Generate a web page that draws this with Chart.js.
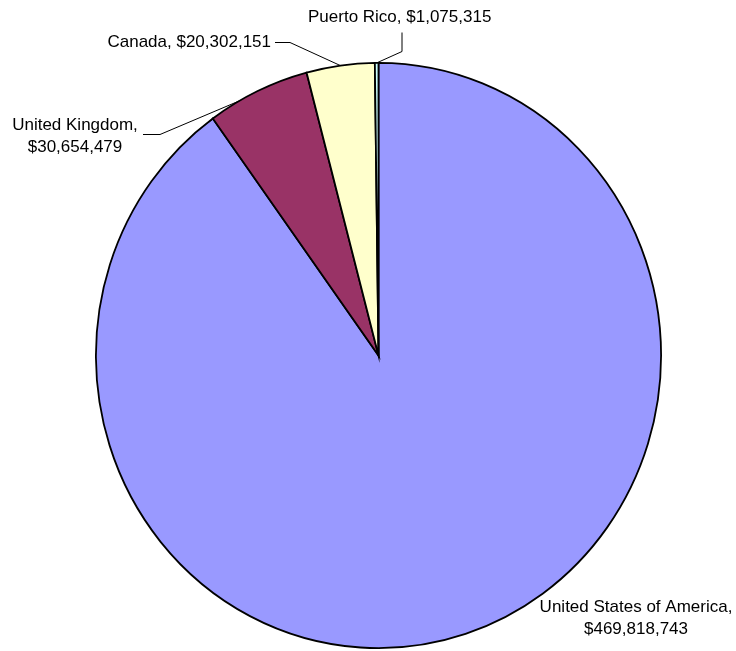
<!DOCTYPE html>
<html>
<head>
<meta charset="utf-8">
<script src="https://cdn.jsdelivr.net/npm/chart.js@4/dist/chart.umd.min.js"></script>
<style>
  html, body { margin: 0; padding: 0; background: #ffffff; }
  #wrap { position: relative; width: 736px; height: 651px; }
</style>
</head>
<body>
<div id="wrap"><canvas id="c" width="736" height="651"></canvas></div>
<script>
// ---- data ----
const countries = ["United States of America", "United Kingdom", "Canada", "Puerto Rico"];
const amounts = [469818743, 30654479, 20302151, 1075315];
const sliceColors = ["#9999FF", "#993366", "#FFFFCC", "#CCFFFF"];

// ---- label layout (style/position only) ----
const labelLayout = [
  { lines: 2, tx: 636, ty: 607, align: "center", leader: null },
  { lines: 2, tx: 75, ty: 125, align: "center", leader: { via: [[143, 134], [160, 134]], at: 0.3 } },
  { lines: 1, tx: 271, ty: 42, align: "right", leader: { via: [[275, 42], [290, 42]], at: 0.5 } },
  { lines: 1, tx: 308, ty: 17, align: "left", leader: { via: [[402, 32], [402, 51]], at: 0.5 } }
];
const ySquash = 293 / 283;

function fmtMoney(v) {
  return "$" + v.toLocaleString("en-US");
}

const ellipsePlugin = {
  id: "ellipse",
  beforeDatasetsDraw(chart) {
    const a = chart.getDatasetMeta(0).data[0];
    const ctx = chart.ctx;
    ctx.save();
    ctx.translate(a.x, a.y);
    ctx.scale(1, ySquash);
    ctx.translate(-a.x, -a.y);
  },
  afterDatasetsDraw(chart) {
    chart.ctx.restore();
  }
};

const labelPlugin = {
  id: "pieLabels",
  afterDraw(chart) {
    const ctx = chart.ctx;
    const meta = chart.getDatasetMeta(0);
    ctx.save();
    ctx.font = "17px 'Liberation Sans', Arial, sans-serif";
    ctx.fillStyle = "#000000";
    ctx.textBaseline = "middle";
    meta.data.forEach((arc, i) => {
      const L = labelLayout[i];
      const name = countries[i];
      const val = fmtMoney(chart.data.datasets[0].data[i]);
      ctx.textAlign = L.align;
      if (L.lines === 2) {
        ctx.fillText(name + ",", L.tx, L.ty);
        ctx.fillText(val, L.tx, L.ty + 22);
      } else {
        ctx.fillText(name + ", " + val, L.tx, L.ty);
      }
      if (L.leader) {
        const p = arc.getProps(["x", "y", "startAngle", "endAngle", "outerRadius"], true);
        const ang = p.startAngle + (p.endAngle - p.startAngle) * L.leader.at;
        const ex = p.x + Math.cos(ang) * p.outerRadius;
        const ey = p.y + Math.sin(ang) * p.outerRadius * ySquash;
        ctx.beginPath();
        ctx.strokeStyle = "#000000";
        ctx.lineWidth = 1;
        ctx.moveTo(L.leader.via[0][0], L.leader.via[0][1] + 0.5);
        ctx.lineTo(L.leader.via[1][0], L.leader.via[1][1] + 0.5);
        ctx.lineTo(ex, ey);
        ctx.stroke();
      }
    });
    ctx.restore();
  }
};

new Chart(document.getElementById("c"), {
  type: "pie",
  data: {
    labels: countries,
    datasets: [{
      data: amounts,
      backgroundColor: sliceColors,
      borderColor: "#000000",
      borderWidth: 1.8,
      borderJoinStyle: "miter"
    }]
  },
  options: {
    responsive: false,
    animation: false,
    events: [],
    rotation: 0,
    layout: { padding: { left: 95, right: 74, top: 72, bottom: 12 } },
    plugins: {
      legend: { display: false },
      tooltip: { enabled: false },
      title: { display: false }
    }
  },
  plugins: [ellipsePlugin, labelPlugin]
});
</script>
</body>
</html>
